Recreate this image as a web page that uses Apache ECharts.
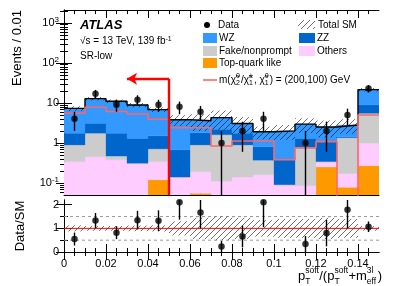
<!DOCTYPE html>
<html><head><meta charset="utf-8">
<script src="https://cdn.jsdelivr.net/npm/echarts@6/dist/echarts.min.js"></script>
<style>html,body{margin:0;padding:0;background:#fff}#c{width:399px;height:286px}</style>
</head><body><div id="c"></div>
<script>
// ---------- data ----------
const binEdges = [0,0.01,0.02,0.03,0.04,0.05,0.06,0.07,0.08,0.09,0.10,0.11,0.12,0.13,0.14,0.15];
const topQuark      = [0,0,0,0,0.12,0,0.055,0,0,0,0,0,0.25,0.078,0.27];
const others        = [0.34,0.45,0.38,0.31,0.22,0.14,0.135,0.11,0.14,0.16,0.09,0.085,0.09,0.092,0.71];
const fakeNonprompt = [0.55,1.30,0.09,0,0.37,0,0.70,1.49,0.75,0.21,0,0.655,0,1.18,4.52];
const zz            = [0.86,1.35,1.28,0.99,0.79,0.53,0.91,0.60,0.86,0.43,0.29,0.56,0.74,0.09,3.4];
const wz            = [5.55,9.7,9.25,7.6,5.3,3.13,1.8,2.1,1.3,1.1,1.62,1.65,1.42,1.36,12.6];
const signal        = [5.5,7.8,6.1,5.3,3.9,2.4,2.4,0.84,1.12,1.12,0.38,0.76,1.08,0,5.0];
const dataCounts    = [4,17,9,12,9,8,6,1,2,4,0,1,2,5,23];
const dataErr       = [2,4.1,3,3.5,3,2.8,2.4,1,1.4,2,0,1,1.4,2.2,4.8];
const sysRel        = [0.13,0.1,0.1,0.12,0.13,0.3,0.45,0.5,0.45,0.35,0.4,0.4,0.45,0.4,0.1];
const cutX = 0.05, arrowEndX = 0.03, arrowY = 40;

const xTickValues = [0,0.02,0.04,0.06,0.08,0.10,0.12,0.14];
const xTickLabels = ['0','0.02','0.04','0.06','0.08','0.1','0.12','0.14'];
const xMinorValues = [0.005,0.01,0.015,0.025,0.03,0.035,0.045,0.05,0.055,0.065,0.07,0.075,0.085,0.09,0.095,0.105,0.11,0.115,0.125,0.13,0.135,0.145];
const yTickValues = [0.1,1,10,100,1000];
const yTickLabels = ['10{sup|-1}','1','10','10{sup|2}','10{sup|3}'];
const yMinorValues = [0.06,0.07,0.08,0.09,0.2,0.3,0.4,0.5,0.6,0.7,0.8,0.9,2,3,4,5,6,7,8,9,20,30,40,50,60,70,80,90,200,300,400,500,600,700,800,900,2000];
const rTickValues = [0,1,2];
const rTickLabels = ['0','1','2'];
const rMinorValues = [0.5,1.5];
const yMin = 0.05, yMax = 2100, rMin = 0, rMax = 2.2;

// ---------- colours ----------
const C = {top:'#ff9900', oth:'#ffccff', fake:'#cccccc', zz:'#0066cc', wz:'#3399ff', sig:'#ff6666', cut:'#ff0000'};
const FONT = "'Liberation Sans', Arial, Helvetica, sans-serif";

function makeHatch(){
  const s=6;
  const c=document.createElement('canvas'); c.width=s; c.height=s;
  const g=c.getContext('2d'); g.strokeStyle='rgba(0,0,0,0.75)'; g.lineWidth=0.75;
  g.beginPath(); g.moveTo(0,s); g.lineTo(s,0); g.moveTo(-1,1); g.lineTo(1,-1); g.moveTo(s-1,s+1); g.lineTo(s+1,s-1); g.stroke();
  return c;
}
const hatch = {image: makeHatch(), repeat:'repeat'};

const nb = dataCounts.length;
const centers = [], total = [];
for (let i=0;i<nb;i++){ centers.push((binEdges[i]+binEdges[i+1])/2); total.push(topQuark[i]+others[i]+fakeNonprompt[i]+zz[i]+wz[i]); }
const comps = [topQuark, others, fakeNonprompt, zz, wz];
const compColors = [C.top, C.oth, C.fake, C.zz, C.wz];
const LOWV = 1e-4;

function rectItem(params, api){
  const lo = api.value(2), hi = api.value(3);
  if (!(hi > lo)) return null;
  const a = api.coord([api.value(0), hi]);
  const b = api.coord([api.value(1), Math.max(lo, LOWV)]);
  return {type:'rect', shape:{x:a[0], y:a[1], width:b[0]-a[0], height:b[1]-a[1]},
          style:{fill: api.visual('color'), stroke: api.visual('color'), lineWidth:0.3}};
}
function hatchItem(params, api){
  const a = api.coord([api.value(0), api.value(3)]);
  const b = api.coord([api.value(1), Math.max(api.value(2), LOWV)]);
  return {type:'rect', shape:{x:a[0], y:a[1], width:b[0]-a[0], height:b[1]-a[1]}, style:{fill: hatch}};
}
function errItem(params, api){
  const p1 = api.coord([api.value(0), Math.max(api.value(1), LOWV)]);
  const p2 = api.coord([api.value(0), api.value(2)]);
  return {type:'line', shape:{x1:p1[0],y1:p1[1],x2:p2[0],y2:p2[1]}, style:{stroke:'#000', lineWidth:1.4}};
}

const series = [];
const cum = new Array(nb).fill(0);
comps.forEach((arr, k) => {
  const d = [];
  for (let i=0;i<nb;i++){ d.push([binEdges[i], binEdges[i+1], cum[i], cum[i]+arr[i]]); cum[i]+=arr[i]; }
  series.push({type:'custom', xAxisIndex:0, yAxisIndex:0, clip:true, z:1, itemStyle:{color:compColors[k]},
    encode:{x:[0,1], y:[2,3]}, renderItem: rectItem, data:d, silent:true});
});
series.push({type:'custom', xAxisIndex:0, yAxisIndex:0, clip:true, z:2, encode:{x:[0,1], y:[2,3]}, renderItem: hatchItem, silent:true,
  data: total.map((t,i)=>[binEdges[i], binEdges[i+1], t*(1-sysRel[i]), t*(1+sysRel[i])])});
function stepData(vals){ const d = vals.map((v,i)=>[binEdges[i], Math.max(v, LOWV)]); d.push([binEdges[nb], Math.max(vals[nb-1], LOWV)]); return d; }
series.push({type:'line', xAxisIndex:0, yAxisIndex:0, step:'end', symbol:'none', z:3, data: stepData(total), lineStyle:{color:'#000', width:1.4}, silent:true});
series.push({type:'line', xAxisIndex:0, yAxisIndex:0, step:'end', symbol:'none', z:4, data: stepData(signal), lineStyle:{color:C.sig, width:1.6}, silent:true});
const dPts=[], dErr=[], rPts=[], rErr=[];
for (let i=0;i<nb;i++){
  if (dataCounts[i] <= 0) continue;
  dPts.push([centers[i], dataCounts[i]]);
  dErr.push([centers[i], dataCounts[i]-dataErr[i], dataCounts[i]+dataErr[i]]);
  const r = dataCounts[i]/total[i], re = dataErr[i]/total[i];
  rPts.push([centers[i], r]); rErr.push([centers[i], r-re, r+re]);
}
series.push({type:'custom', xAxisIndex:0, yAxisIndex:0, clip:true, z:5, renderItem: errItem, data:dErr, encode:{x:0,y:[1,2]}, silent:true});
series.push({type:'scatter', xAxisIndex:0, yAxisIndex:0, z:6, symbolSize:6.5, itemStyle:{color:'#000'}, data:dPts, silent:true});
series.push({type:'line', xAxisIndex:0, yAxisIndex:0, symbol:'none', z:7, data:[[cutX, yMin],[cutX, arrowY]], lineStyle:{color:C.cut, width:2.4}, silent:true,
  markLine:{silent:true, symbol:['none','arrow'], symbolSize:[9,10], label:{show:false}, lineStyle:{color:C.cut, width:2.4, type:'solid'},
    data:[[{coord:[cutX, arrowY]},{coord:[arrowEndX, arrowY]}]]}});

// ratio panel
series.push({type:'custom', xAxisIndex:4, yAxisIndex:4, clip:true, z:2, encode:{x:[0,1], y:[2,3]}, renderItem: hatchItem, silent:true,
  data: sysRel.map((u,i)=>[binEdges[i], binEdges[i+1], 1-u, 1+u])});
series.push({type:'line', xAxisIndex:4, yAxisIndex:4, symbol:'none', z:1, data:[[0,0.5],[0.15,0.5]], lineStyle:{color:'#999', width:1, type:[3,3]}, silent:true});
series.push({type:'line', xAxisIndex:4, yAxisIndex:4, symbol:'none', z:1, data:[[0,1.5],[0.15,1.5]], lineStyle:{color:'#999', width:1, type:[3,3]}, silent:true});
series.push({type:'line', xAxisIndex:4, yAxisIndex:4, symbol:'none', z:3, data:[[0,1],[0.15,1]], lineStyle:{color:'#ff0000', width:1}, silent:true});
series.push({type:'custom', xAxisIndex:4, yAxisIndex:4, clip:true, z:5, renderItem: errItem, data:rErr, encode:{x:0,y:[1,2]}, silent:true});
series.push({type:'scatter', xAxisIndex:4, yAxisIndex:4, z:6, symbolSize:6.5, itemStyle:{color:'#000'}, data:rPts, silent:true, clip:true});

// ---------- axes ----------
const lineS = {color:'#000', width:1};
function xAx(grid, pos, major, labels){
  return {type:'value', gridIndex:grid, position:pos, min:0, max:0.15,
    axisLine:{show:major, lineStyle:lineS}, splitLine:{show:false},
    axisTick:{show:true, inside:true, length: major?8:4, customValues: major?xTickValues:xMinorValues, lineStyle:lineS},
    axisLabel:{show:labels, customValues:xTickValues, margin:6, color:'#000', fontSize:11, fontFamily:FONT,
      formatter: v => { const k = xTickValues.findIndex(t=>Math.abs(t-v)<1e-6); return k<0?'':xTickLabels[k]; }}};
}
function yAxLog(pos, major, labels){
  return {type:'log', logBase:10, gridIndex:0, position:pos, min:yMin, max:yMax,
    axisLine:{show:major, lineStyle:lineS}, splitLine:{show:false}, minorSplitLine:{show:false},
    axisTick:{show:true, inside:true, length: major?8:4, customValues: major?yTickValues:yMinorValues, lineStyle:lineS},
    axisLabel:{show:labels, customValues:yTickValues, margin:5, color:'#000', fontSize:11, fontFamily:FONT, lineHeight:14,
      formatter: v => { const k = yTickValues.findIndex(t=>Math.abs(Math.log10(t)-Math.log10(v))<1e-6); return k<0?'':yTickLabels[k]; },
      rich:{sup:{fontSize:8, fontFamily:FONT, color:'#000', verticalAlign:'top', lineHeight:10}}}};
}
function yAxR(pos, major, labels){
  return {type:'value', gridIndex:1, position:pos, min:rMin, max:rMax,
    axisLine:{show:major, lineStyle:lineS}, splitLine:{show:false},
    axisTick:{show:true, inside:true, length: major?8:4, customValues: major?rTickValues:rMinorValues, lineStyle:lineS},
    axisLabel:{show:labels, customValues:rTickValues, margin:5, color:'#000', fontSize:11, fontFamily:FONT,
      formatter: v => { const k = rTickValues.findIndex(t=>Math.abs(t-v)<1e-6); return k<0?'':rTickLabels[k]; }}};
}

// ---------- legend / texts (graphic) ----------
const T = (x,y,text,extra) => ({type:'text', x, y, silent:true, style:Object.assign({text, fill:'#000', font:'10px '+FONT, verticalAlign:'middle', align:'left'}, extra||{})});
const R = (x,y,w,h,fill) => ({type:'rect', silent:true, shape:{x,y,width:w,height:h}, style:{fill}});
const CLEAR = 'rgba(0,0,0,0)';
const graphic = [
  T(80,25,'ATLAS',{font:'italic bold 13px '+FONT}),
  T(80,41,'√s = 13 TeV, 139 fb{sup|-1}',{rich:{sup:{fontSize:7, fontFamily:FONT, fill:'#000', verticalAlign:'top', lineHeight:9}}}),
  T(80,56,'SR-low'),
  {type:'circle', silent:true, shape:{cx:207, cy:25, r:3}, style:{fill:'#000'}},
  T(218,25,'Data'),
  R(298,20,17,9,hatch), T(318,25,'Total SM'),
  R(203,33,14,10,C.wz), T(219,38,'WZ'),
  R(299,33,16,10,C.zz), T(317,38,'ZZ'),
  R(203,46,14,10,C.fake), T(219,51,'Fake/nonprompt'),
  R(299,46,16,10,C.oth), T(317,51,'Others'),
  R(203,58,14,10,C.top), T(219,63,'Top-quark like'),
  {type:'line', silent:true, shape:{x1:203,y1:80,x2:217,y2:80}, style:{stroke:C.sig, lineWidth:1.6}},
  T(219,80,'{h|m(χ̃}{sup|0}{h|/χ̃}{sup|±}{h|, χ̃}{sup|0}{h|) = (200,100) GeV}',{rich:{h:{fontSize:10, fontFamily:FONT, fill:'#000', lineHeight:14}, sup:{fontSize:7, width:5, fontFamily:FONT, fill:'#000', verticalAlign:'top', lineHeight:14}}}),
  T(219,80,'{h|m(χ̃}{sub|2}{h|/χ̃}{sub|1}{h|, χ̃}{sub|1}{h|) = (200,100) GeV}',{fill:CLEAR, rich:{h:{fontSize:10, fontFamily:FONT, fill:CLEAR, lineHeight:14}, sub:{fontSize:7, width:5, fontFamily:FONT, fill:'#000', verticalAlign:'bottom', lineHeight:14}}}),
  T(17,10,'Events / 0.01',{font:'13px '+FONT, align:'right'}),
  T(20,226,'Data/SM',{font:'13px '+FONT, align:'center'})
];
graphic[graphic.length-2].rotation = Math.PI/2;
graphic[graphic.length-1].rotation = Math.PI/2;
// x axis title
const xr = {h:{fontSize:13, fontFamily:FONT, lineHeight:20}, a:{fontSize:8.5, width:14, fontFamily:FONT, lineHeight:20}, b:{fontSize:8.5, width:11, fontFamily:FONT, lineHeight:20}};
graphic.push(T(298,276,'{h|p}{a|soft}{h|/(p}{a|soft}{h|+m}{b|3l}{h|)}',{font:'13px '+FONT, rich:{
  h:Object.assign({fill:'#000'}, xr.h), a:Object.assign({fill:'#000', verticalAlign:'top'}, xr.a), b:Object.assign({fill:'#000', verticalAlign:'top'}, xr.b)}}));
graphic.push(T(298,276,'{h|p}{a|T}{h|/(p}{a|T}{h|+m}{b|eff}{h|)}',{font:'13px '+FONT, fill:CLEAR, rich:{
  h:Object.assign({fill:CLEAR}, xr.h), a:Object.assign({fill:'#000', verticalAlign:'bottom'}, xr.a), b:Object.assign({fill:'#000', verticalAlign:'bottom'}, xr.b)}}));

const option = {
  animation:false,
  backgroundColor:'#fff',
  grid:[{left:64, top:10, width:315, height:185, containLabel:false},
        {left:64, top:200, width:315, height:52, containLabel:false}],
  xAxis:[xAx(0,'bottom',true,false), xAx(0,'bottom',false,false), xAx(0,'top',true,false), xAx(0,'top',false,false),
         xAx(1,'bottom',true,true), xAx(1,'bottom',false,false), xAx(1,'top',true,false), xAx(1,'top',false,false)],
  yAxis:[yAxLog('left',true,true), yAxLog('left',false,false), yAxLog('right',true,false), yAxLog('right',false,false),
         yAxR('left',true,true), yAxR('left',false,false), yAxR('right',true,false), yAxR('right',false,false)],
  series,
  graphic
};
const chart = echarts.init(document.getElementById('c'), null, {renderer:'canvas'});
chart.setOption(option);
</script>
</body></html>
